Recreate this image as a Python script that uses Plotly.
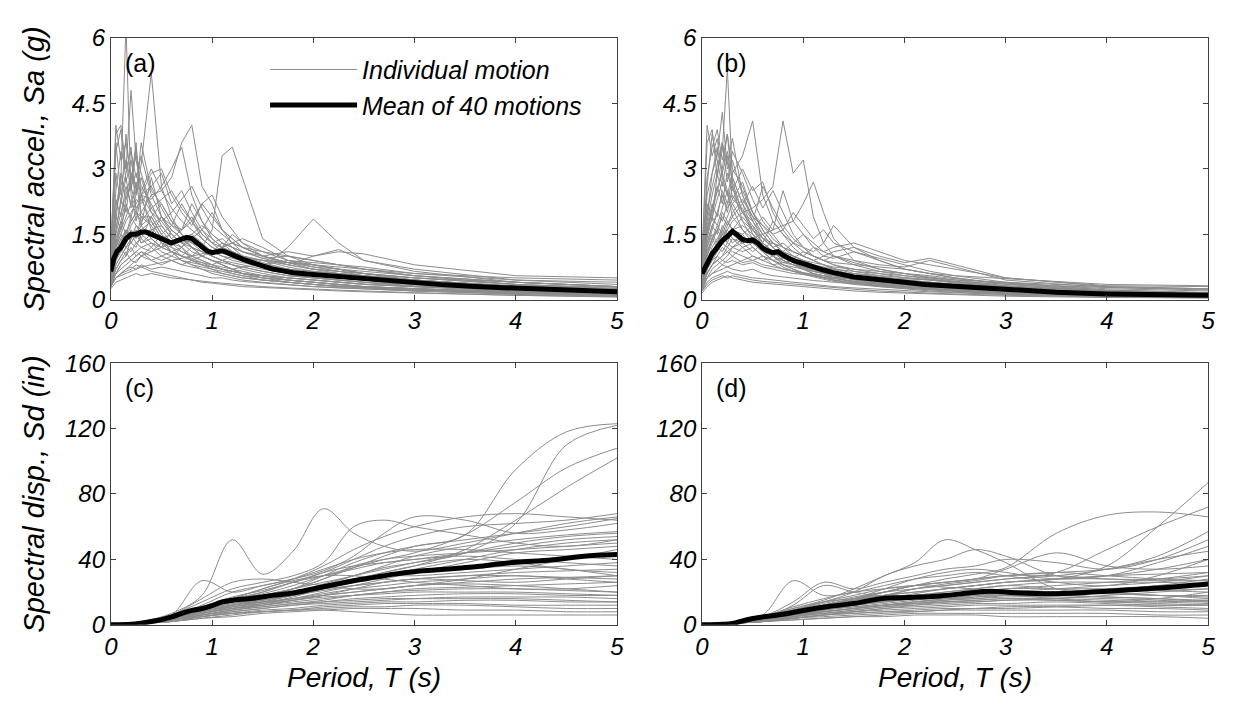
import plotly.graph_objects as go
from plotly.subplots import make_subplots

period_sa = [0, 0.05, 0.1, 0.15, 0.2, 0.25, 0.3, 0.4, 0.5, 0.6, 0.7, 0.8, 0.9, 1.0, 1.1, 1.2,
             1.3, 1.5, 1.75, 2.0, 2.25, 2.5, 3.0, 4.0, 5.0]
period_sd = [0, 0.3, 0.6, 0.9, 1.2, 1.5, 1.8, 2.1, 2.4, 2.7, 3.0, 3.5, 4.0, 4.5, 5.0]

# (a) spectral acceleration, g
sa_a = [
    [0.9, 2.1, 2.8, 6.3, 2.4, 1.8, 2.4, 1.6, 1.3, 1.1, 0.9, 0.8, 0.7, 0.6, 0.55, 0.5, 0.45, 0.4, 0.35, 0.3, 0.27, 0.25, 0.2, 0.14, 0.1],
    [0.7, 1.6, 2.3, 2.0, 2.9, 2.4, 3.1, 5.2, 2.6, 1.9, 1.5, 1.2, 1.0, 0.9, 0.8, 0.7, 0.6, 0.5, 0.45, 0.4, 0.35, 0.3, 0.25, 0.18, 0.12],
    [0.8, 2.5, 3.4, 3.0, 4.8, 3.2, 2.6, 2.2, 1.7, 1.4, 1.2, 0.9, 0.8, 0.7, 0.65, 0.6, 0.55, 0.45, 0.4, 0.35, 0.3, 0.28, 0.22, 0.15, 0.1],
    [0.5, 0.9, 1.2, 1.4, 1.7, 1.9, 2.0, 2.4, 2.5, 2.8, 3.6, 4.0, 2.6, 2.2, 1.6, 1.4, 1.2, 1.0, 0.85, 0.8, 0.7, 0.6, 0.45, 0.3, 0.2],
    [0.4, 0.6, 0.8, 0.9, 1.0, 1.1, 1.2, 1.3, 1.2, 1.3, 1.4, 1.3, 1.2, 1.6, 3.3, 3.5, 2.8, 1.4, 1.0, 0.8, 0.7, 0.6, 0.45, 0.3, 0.22],
    [0.3, 0.5, 0.6, 0.7, 0.8, 0.9, 1.0, 1.1, 1.2, 1.1, 1.0, 0.9, 0.85, 0.8, 0.9, 1.0, 0.9, 0.75, 1.2, 1.85, 1.3, 0.9, 0.7, 0.45, 0.35],
    [0.6, 1.2, 1.5, 1.8, 2.0, 2.2, 2.4, 2.3, 2.6, 3.0, 3.5, 2.4, 1.8, 1.4, 1.2, 1.1, 1.0, 0.8, 0.7, 0.6, 0.5, 0.45, 0.35, 0.25, 0.18],
    [1.0, 4.0, 3.2, 3.6, 2.8, 3.3, 2.9, 2.1, 1.8, 1.5, 1.3, 1.1, 1.0, 0.9, 0.8, 0.7, 0.65, 0.55, 0.45, 0.4, 0.35, 0.3, 0.25, 0.18, 0.12],
    [0.9, 3.4, 3.9, 2.7, 3.2, 2.5, 2.8, 2.0, 1.6, 1.3, 1.1, 1.0, 0.9, 0.8, 0.7, 0.6, 0.55, 0.5, 0.4, 0.35, 0.3, 0.28, 0.22, 0.15, 0.1],
    [0.7, 2.0, 2.6, 3.2, 2.5, 3.5, 2.4, 2.6, 2.1, 1.7, 1.5, 1.3, 1.1, 1.0, 0.9, 0.8, 0.7, 0.6, 0.5, 0.45, 0.4, 0.35, 0.3, 0.2, 0.15],
    [0.6, 1.5, 2.0, 2.4, 2.9, 2.6, 2.5, 3.0, 2.5, 2.1, 1.8, 1.6, 1.4, 1.2, 1.1, 1.0, 0.9, 0.8, 0.7, 0.6, 0.55, 0.5, 0.4, 0.3, 0.22],
    [0.5, 1.2, 1.7, 2.1, 1.9, 2.3, 2.2, 2.6, 2.9, 2.2, 2.5, 2.0, 1.6, 1.3, 1.2, 1.1, 1.0, 0.9, 0.75, 0.65, 0.6, 0.55, 0.45, 0.32, 0.25],
    [0.6, 1.3, 1.6, 1.9, 2.2, 2.0, 2.4, 2.0, 1.8, 2.0, 2.3, 2.6, 2.1, 1.7, 1.5, 1.3, 1.2, 1.0, 0.85, 0.7, 0.65, 0.6, 0.5, 0.4, 0.3],
    [0.5, 1.0, 1.3, 1.5, 1.8, 2.0, 1.8, 2.1, 2.3, 2.5, 2.1, 1.8, 2.2, 2.4, 1.9, 1.6, 1.3, 1.1, 0.9, 0.8, 0.7, 0.6, 0.5, 0.35, 0.28],
    [0.8, 1.9, 1.6, 2.2, 1.8, 2.0, 1.7, 1.9, 1.5, 1.7, 1.6, 1.9, 1.5, 1.3, 1.4, 1.2, 1.1, 1.0, 1.1, 1.0, 1.1, 1.05, 0.8, 0.55, 0.5],
    [0.7, 1.4, 1.8, 1.5, 1.9, 1.7, 1.6, 1.8, 1.4, 1.5, 1.3, 1.4, 1.6, 1.4, 1.2, 1.3, 1.2, 1.1, 1.0, 0.9, 0.8, 0.75, 0.6, 0.5, 0.45],
    [0.5, 1.0, 1.3, 1.6, 1.4, 1.7, 1.5, 1.6, 1.7, 1.4, 1.6, 1.8, 1.4, 1.2, 1.1, 1.0, 0.95, 0.9, 0.85, 0.8, 0.75, 0.7, 0.6, 0.45, 0.4],
    [0.6, 1.2, 1.5, 1.3, 1.6, 1.4, 1.9, 1.7, 1.3, 1.2, 1.1, 1.0, 1.2, 1.1, 1.3, 1.2, 1.0, 0.9, 0.8, 1.0, 1.15, 0.9, 0.65, 0.4, 0.3],
    [0.4, 0.9, 1.1, 1.3, 1.5, 1.3, 1.4, 1.2, 1.5, 1.3, 1.2, 1.5, 1.7, 1.5, 1.3, 1.1, 1.0, 0.85, 0.7, 0.6, 0.55, 0.5, 0.4, 0.3, 0.2],
    [0.5, 1.1, 1.4, 1.2, 1.3, 1.5, 1.3, 1.4, 1.2, 1.6, 1.4, 1.2, 1.1, 1.0, 0.9, 0.85, 0.8, 0.7, 0.6, 0.55, 0.5, 0.45, 0.35, 0.25, 0.18],
    [0.4, 0.8, 1.0, 1.2, 1.1, 1.3, 1.2, 1.1, 1.3, 1.1, 1.0, 1.2, 1.0, 0.9, 0.85, 0.8, 0.75, 0.65, 0.55, 0.5, 0.45, 0.4, 0.3, 0.22, 0.15],
    [0.3, 0.7, 0.9, 1.0, 1.2, 1.0, 1.1, 1.0, 0.9, 1.0, 0.9, 0.85, 0.8, 0.75, 0.7, 0.65, 0.6, 0.55, 0.5, 0.45, 0.4, 0.35, 0.3, 0.2, 0.15],
    [0.3, 0.6, 0.7, 0.8, 0.9, 0.85, 1.0, 0.9, 0.8, 0.9, 0.8, 0.75, 0.7, 0.65, 0.6, 0.55, 0.5, 0.45, 0.4, 0.35, 0.32, 0.3, 0.25, 0.18, 0.12],
    [0.3, 0.5, 0.6, 0.7, 0.75, 0.7, 0.8, 0.7, 0.75, 0.7, 0.65, 0.6, 0.55, 0.5, 0.5, 0.45, 0.42, 0.38, 0.34, 0.3, 0.28, 0.25, 0.2, 0.12, 0.08],
    [0.25, 0.4, 0.45, 0.5, 0.55, 0.6, 0.55, 0.6, 0.55, 0.5, 0.48, 0.45, 0.42, 0.4, 0.38, 0.36, 0.34, 0.3, 0.27, 0.24, 0.22, 0.2, 0.16, 0.1, 0.06],
    [0.35, 0.5, 0.55, 0.6, 0.65, 0.7, 0.75, 0.8, 0.85, 0.9, 0.95, 1.0, 1.05, 1.1, 1.0, 0.95, 0.9, 0.8, 0.7, 0.65, 0.6, 0.55, 0.45, 0.3, 0.2],
    [0.9, 2.9, 2.2, 3.8, 2.6, 2.1, 2.3, 1.8, 1.4, 1.1, 0.9, 0.8, 0.75, 0.7, 0.6, 0.55, 0.5, 0.45, 0.4, 0.35, 0.3, 0.27, 0.2, 0.14, 0.1],
    [1.1, 3.6, 2.4, 2.9, 3.5, 2.0, 1.9, 1.9, 1.5, 1.2, 1.0, 0.95, 0.85, 0.75, 0.7, 0.65, 0.6, 0.5, 0.45, 0.4, 0.35, 0.3, 0.25, 0.16, 0.12],
    [0.7, 1.8, 2.9, 2.3, 2.7, 3.6, 1.7, 2.8, 1.9, 1.5, 1.3, 1.2, 1.1, 1.0, 0.9, 0.8, 0.75, 0.65, 0.55, 0.5, 0.45, 0.4, 0.32, 0.22, 0.16],
    [0.6, 1.6, 2.2, 2.8, 2.1, 2.4, 3.6, 2.5, 2.2, 1.8, 1.6, 2.2, 1.8, 1.5, 1.3, 1.2, 1.1, 0.95, 0.8, 0.7, 0.65, 0.6, 0.5, 0.35, 0.25],
    [0.5, 1.3, 1.8, 2.3, 2.6, 2.9, 2.4, 2.9, 3.0, 2.4, 2.0, 1.7, 2.2, 1.9, 1.6, 1.4, 1.2, 1.0, 0.85, 0.75, 0.7, 0.65, 0.55, 0.4, 0.3],
    [0.8, 2.3, 1.9, 2.6, 2.2, 2.7, 2.0, 1.7, 1.9, 1.6, 1.4, 1.5, 1.3, 1.1, 1.2, 1.5, 1.3, 1.0, 0.8, 0.7, 0.6, 0.55, 0.45, 0.3, 0.2],
    [0.4, 0.9, 1.2, 1.0, 1.4, 1.6, 1.3, 1.5, 1.9, 1.7, 2.2, 1.8, 1.5, 1.3, 1.1, 1.0, 0.9, 0.8, 0.7, 0.6, 0.55, 0.5, 0.4, 0.3, 0.2],
    [0.6, 1.4, 1.1, 1.6, 1.3, 1.2, 1.5, 1.3, 1.1, 1.0, 1.2, 1.4, 1.6, 2.0, 1.6, 1.3, 1.1, 0.95, 1.0, 0.9, 0.8, 0.7, 0.55, 0.35, 0.25],
    [0.3, 0.6, 0.8, 0.9, 1.0, 1.1, 1.0, 1.2, 1.0, 0.9, 0.8, 0.9, 1.0, 1.1, 1.2, 1.3, 1.4, 1.2, 0.9, 0.75, 0.65, 0.55, 0.45, 0.3, 0.2],
    [0.4, 0.7, 0.9, 1.1, 0.9, 1.0, 1.1, 0.9, 1.0, 1.1, 1.2, 1.0, 0.9, 0.8, 0.75, 0.7, 0.75, 0.8, 0.9, 0.85, 0.8, 0.7, 0.55, 0.4, 0.3],
    [1.2, 3.8, 4.0, 3.0, 3.4, 2.8, 3.3, 2.4, 1.9, 1.6, 1.4, 1.2, 1.0, 0.9, 0.8, 0.7, 0.6, 0.55, 0.45, 0.4, 0.35, 0.3, 0.25, 0.15, 0.1],
    [0.5, 1.1, 1.4, 1.6, 1.3, 1.5, 1.7, 1.4, 1.2, 1.1, 1.0, 0.9, 0.8, 0.75, 0.7, 0.65, 0.6, 0.55, 0.5, 0.45, 0.4, 0.36, 0.3, 0.2, 0.15],
    [0.4, 0.8, 1.0, 1.2, 1.4, 1.6, 1.4, 1.9, 2.2, 1.8, 1.5, 1.3, 1.2, 1.1, 1.0, 0.9, 0.85, 0.75, 0.6, 0.5, 0.45, 0.4, 0.35, 0.25, 0.2],
    [0.3, 0.5, 0.6, 0.65, 0.7, 0.8, 0.75, 0.65, 0.6, 0.55, 0.5, 0.45, 0.4, 0.38, 0.35, 0.33, 0.3, 0.28, 0.25, 0.22, 0.2, 0.18, 0.15, 0.1, 0.07],
]

# (b) spectral acceleration, g
sa_b = [
    [0.8, 2.0, 2.6, 3.1, 3.4, 5.3, 2.8, 2.2, 1.6, 1.3, 1.1, 0.9, 0.8, 0.7, 0.6, 0.55, 0.5, 0.4, 0.35, 0.3, 0.26, 0.22, 0.16, 0.1, 0.08],
    [0.7, 1.9, 2.9, 3.3, 4.3, 3.0, 3.2, 2.4, 1.9, 1.5, 1.2, 1.0, 0.85, 0.75, 0.65, 0.6, 0.5, 0.42, 0.36, 0.3, 0.26, 0.22, 0.16, 0.1, 0.07],
    [0.6, 1.4, 1.9, 2.3, 2.7, 2.4, 2.9, 3.3, 4.1, 2.4, 1.8, 1.5, 1.2, 1.0, 0.9, 0.8, 0.7, 0.55, 0.45, 0.38, 0.32, 0.28, 0.2, 0.12, 0.09],
    [0.4, 0.8, 1.1, 1.3, 1.5, 1.6, 1.8, 2.0, 2.1, 2.3, 2.6, 4.1, 2.9, 3.2, 1.9, 1.3, 1.0, 0.8, 0.65, 0.55, 0.48, 0.4, 0.3, 0.18, 0.12],
    [0.3, 0.6, 0.8, 0.9, 1.0, 1.1, 1.2, 1.3, 1.4, 1.5, 1.6, 1.7, 1.8, 2.2, 2.7, 2.0, 1.4, 0.9, 0.7, 0.6, 0.5, 0.42, 0.3, 0.2, 0.15],
    [1.0, 4.0, 3.3, 3.7, 2.9, 3.4, 2.7, 2.0, 1.7, 1.3, 1.1, 0.9, 0.8, 0.7, 0.6, 0.5, 0.45, 0.38, 0.3, 0.25, 0.2, 0.17, 0.12, 0.08, 0.06],
    [0.9, 3.6, 3.9, 2.8, 3.6, 3.1, 3.7, 2.4, 1.8, 1.4, 1.2, 1.0, 0.85, 0.7, 0.6, 0.55, 0.5, 0.42, 0.35, 0.3, 0.25, 0.22, 0.16, 0.1, 0.07],
    [0.8, 2.8, 3.5, 3.9, 3.2, 3.8, 3.0, 2.6, 2.0, 1.6, 1.3, 1.1, 0.9, 0.8, 0.7, 0.6, 0.55, 0.45, 0.38, 0.32, 0.28, 0.24, 0.17, 0.1, 0.08],
    [0.6, 1.8, 2.4, 2.9, 3.6, 2.7, 3.4, 2.9, 2.3, 1.8, 1.5, 1.2, 1.0, 0.9, 0.8, 0.7, 0.62, 0.5, 0.42, 0.36, 0.3, 0.26, 0.2, 0.12, 0.09],
    [0.5, 1.5, 2.1, 2.6, 2.2, 2.9, 2.5, 3.0, 2.5, 2.7, 2.0, 1.6, 1.3, 1.1, 1.0, 0.9, 0.8, 0.65, 0.55, 0.45, 0.4, 0.34, 0.25, 0.15, 0.1],
    [0.7, 1.7, 2.2, 1.9, 2.5, 2.2, 2.8, 2.2, 2.6, 2.1, 2.5, 2.0, 1.5, 1.2, 1.0, 0.9, 0.8, 0.7, 0.6, 0.5, 0.45, 0.38, 0.28, 0.17, 0.12],
    [0.5, 1.2, 1.6, 2.0, 1.8, 2.2, 2.4, 2.0, 1.8, 2.6, 2.1, 1.7, 1.4, 1.2, 1.1, 1.3, 1.7, 1.2, 0.9, 0.7, 0.6, 0.5, 0.35, 0.2, 0.15],
    [0.4, 1.0, 1.3, 1.6, 1.9, 1.7, 2.0, 2.3, 1.9, 1.7, 1.5, 1.6, 2.0, 1.7, 1.4, 1.6, 1.3, 1.1, 0.95, 0.8, 0.65, 0.55, 0.4, 0.22, 0.16],
    [0.6, 1.3, 1.7, 1.5, 2.0, 1.8, 1.6, 1.9, 1.6, 1.4, 1.3, 1.2, 1.1, 1.0, 1.2, 1.1, 1.2, 1.3, 1.1, 0.9, 0.8, 0.7, 0.5, 0.3, 0.25],
    [0.5, 1.1, 1.4, 1.7, 1.5, 1.8, 1.6, 1.5, 1.7, 1.4, 1.2, 1.3, 1.1, 1.0, 0.9, 1.0, 1.1, 1.2, 1.0, 0.85, 0.95, 0.8, 0.5, 0.32, 0.3],
    [0.4, 0.9, 1.2, 1.4, 1.6, 1.4, 1.5, 1.3, 1.4, 1.2, 1.1, 1.0, 0.95, 1.1, 1.0, 0.9, 0.85, 0.8, 0.75, 0.7, 0.6, 0.55, 0.48, 0.35, 0.32],
    [0.3, 0.7, 1.0, 1.2, 1.1, 1.3, 1.2, 1.1, 1.2, 1.0, 0.9, 0.95, 0.9, 0.85, 0.8, 0.75, 0.7, 0.65, 0.6, 0.55, 0.5, 0.45, 0.4, 0.3, 0.25],
    [0.3, 0.6, 0.8, 1.0, 1.2, 1.1, 1.0, 1.2, 1.0, 0.9, 1.0, 0.85, 0.8, 0.75, 0.7, 0.65, 0.6, 0.55, 0.5, 0.45, 0.4, 0.35, 0.3, 0.2, 0.15],
    [0.2, 0.5, 0.7, 0.8, 0.9, 0.85, 0.9, 0.8, 0.85, 0.75, 0.7, 0.65, 0.6, 0.58, 0.55, 0.5, 0.48, 0.42, 0.38, 0.34, 0.3, 0.26, 0.2, 0.12, 0.08],
    [0.2, 0.4, 0.5, 0.55, 0.6, 0.65, 0.6, 0.55, 0.5, 0.48, 0.45, 0.42, 0.4, 0.38, 0.35, 0.33, 0.3, 0.27, 0.24, 0.2, 0.18, 0.16, 0.12, 0.07, 0.05],
    [0.15, 0.3, 0.4, 0.45, 0.5, 0.55, 0.5, 0.45, 0.4, 0.38, 0.36, 0.34, 0.32, 0.3, 0.28, 0.26, 0.24, 0.2, 0.17, 0.15, 0.13, 0.11, 0.08, 0.05, 0.04],
    [0.9, 2.6, 3.8, 3.2, 2.6, 3.3, 2.3, 2.1, 1.5, 1.2, 1.0, 0.8, 0.7, 0.6, 0.55, 0.5, 0.45, 0.38, 0.32, 0.27, 0.23, 0.2, 0.14, 0.09, 0.06],
    [0.7, 2.2, 1.8, 2.9, 2.4, 2.0, 2.6, 1.8, 1.4, 1.1, 0.9, 0.8, 0.7, 0.62, 0.56, 0.5, 0.45, 0.38, 0.33, 0.28, 0.24, 0.21, 0.15, 0.09, 0.06],
    [0.6, 1.6, 2.0, 2.5, 3.0, 3.8, 2.6, 2.0, 1.6, 1.3, 1.1, 0.95, 0.85, 0.75, 0.68, 0.62, 0.56, 0.46, 0.4, 0.34, 0.3, 0.26, 0.19, 0.12, 0.09],
    [0.5, 1.3, 1.7, 2.0, 2.4, 2.1, 2.3, 2.7, 2.0, 1.7, 1.4, 1.2, 1.1, 1.0, 0.9, 0.8, 0.72, 0.6, 0.52, 0.45, 0.4, 0.35, 0.26, 0.16, 0.12],
    [0.4, 1.0, 1.4, 1.2, 1.6, 1.9, 2.2, 1.8, 1.6, 1.9, 1.6, 2.5, 1.8, 1.5, 1.3, 1.1, 1.0, 0.85, 0.7, 0.6, 0.52, 0.45, 0.32, 0.18, 0.13],
    [0.4, 0.9, 1.1, 1.3, 1.5, 1.3, 1.6, 1.7, 1.5, 1.3, 1.8, 1.5, 1.3, 1.5, 1.2, 1.0, 0.95, 1.1, 0.9, 0.7, 0.6, 0.5, 0.36, 0.22, 0.16],
    [0.3, 0.7, 0.9, 1.1, 1.3, 1.2, 1.4, 1.2, 1.3, 1.1, 1.0, 1.1, 1.3, 1.2, 1.0, 0.9, 1.0, 0.9, 0.8, 0.75, 0.9, 0.75, 0.45, 0.28, 0.22],
    [0.5, 1.2, 1.5, 1.3, 1.7, 1.5, 1.3, 1.5, 1.2, 1.0, 0.9, 0.8, 0.75, 0.7, 0.65, 0.6, 0.55, 0.5, 0.45, 0.4, 0.36, 0.32, 0.25, 0.16, 0.12],
    [0.3, 0.6, 0.8, 0.9, 1.0, 1.2, 1.1, 1.0, 0.9, 1.0, 0.8, 0.7, 0.65, 0.6, 0.55, 0.52, 0.5, 0.48, 0.5, 0.48, 0.45, 0.4, 0.32, 0.2, 0.15],
    [0.35, 0.7, 0.9, 1.0, 0.9, 1.0, 1.2, 1.4, 1.3, 1.2, 1.3, 1.1, 1.0, 0.9, 0.85, 0.8, 0.75, 0.7, 0.65, 0.6, 0.55, 0.48, 0.38, 0.25, 0.2],
    [0.25, 0.5, 0.6, 0.7, 0.8, 0.75, 0.8, 0.9, 1.0, 0.9, 0.8, 0.85, 0.9, 0.8, 0.7, 0.65, 0.62, 0.6, 0.55, 0.5, 0.46, 0.42, 0.36, 0.28, 0.24],
    [0.8, 2.4, 2.9, 3.5, 2.8, 2.4, 2.1, 1.6, 1.3, 1.1, 0.9, 0.75, 0.65, 0.58, 0.52, 0.47, 0.42, 0.35, 0.3, 0.26, 0.22, 0.19, 0.13, 0.08, 0.05],
    [0.6, 1.5, 1.9, 1.7, 2.1, 2.5, 1.9, 2.2, 1.8, 1.5, 1.2, 1.0, 0.9, 0.8, 0.72, 0.65, 0.6, 0.5, 0.44, 0.38, 0.33, 0.29, 0.22, 0.14, 0.1],
    [0.5, 1.1, 1.4, 1.6, 1.4, 1.7, 1.9, 1.6, 1.4, 1.2, 1.0, 0.9, 0.8, 0.72, 0.65, 0.6, 0.55, 0.48, 0.42, 0.36, 0.32, 0.28, 0.21, 0.13, 0.1],
    [0.4, 0.8, 1.0, 1.2, 1.4, 1.6, 1.4, 1.3, 1.1, 1.3, 1.1, 1.0, 0.9, 0.8, 0.75, 0.7, 0.65, 0.55, 0.48, 0.42, 0.37, 0.32, 0.24, 0.15, 0.11],
    [0.3, 0.6, 0.8, 0.9, 0.8, 0.9, 1.0, 0.85, 0.9, 0.8, 0.75, 0.7, 0.66, 0.62, 0.58, 0.55, 0.52, 0.46, 0.4, 0.35, 0.31, 0.27, 0.2, 0.12, 0.09],
    [0.25, 0.5, 0.6, 0.65, 0.7, 0.75, 0.7, 0.65, 0.7, 0.6, 0.55, 0.52, 0.5, 0.47, 0.44, 0.42, 0.4, 0.36, 0.32, 0.28, 0.25, 0.22, 0.16, 0.1, 0.07],
    [0.2, 0.35, 0.45, 0.5, 0.55, 0.5, 0.55, 0.5, 0.45, 0.42, 0.4, 0.38, 0.35, 0.33, 0.31, 0.29, 0.27, 0.24, 0.2, 0.17, 0.15, 0.13, 0.1, 0.06, 0.04],
    [0.6, 1.6, 2.1, 2.5, 2.9, 2.5, 2.2, 2.5, 2.0, 1.6, 1.3, 1.1, 1.0, 0.9, 0.8, 0.72, 0.65, 0.55, 0.48, 0.42, 0.36, 0.31, 0.23, 0.14, 0.1],
]

# (c) spectral displacement, in
sd_c = [
    [0, 1, 5, 9, 14, 18, 22, 28, 35, 42, 48, 55, 95, 118, 123],
    [0, 1, 4, 8, 12, 15, 19, 24, 30, 35, 38, 44, 62, 110, 122],
    [0, 1, 5, 10, 15, 19, 24, 30, 35, 40, 44, 55, 75, 96, 108],
    [0, 1, 4, 7, 11, 14, 18, 22, 27, 32, 36, 46, 64, 84, 102],
    [0, 2, 7, 18, 52, 31, 45, 71, 56, 48, 45, 50, 56, 62, 66],
    [0, 1, 6, 14, 22, 26, 30, 38, 60, 64, 60, 55, 50, 48, 52],
    [0, 1, 5, 12, 20, 24, 28, 33, 42, 56, 66, 64, 56, 58, 62],
    [0, 1, 4, 9, 16, 22, 28, 36, 46, 54, 60, 66, 68, 66, 64],
    [0, 1, 5, 11, 17, 21, 26, 32, 40, 48, 54, 60, 62, 64, 68],
    [0, 1, 4, 8, 12, 16, 22, 30, 38, 44, 48, 52, 56, 60, 65],
    [0, 1, 5, 10, 14, 18, 22, 26, 30, 36, 42, 48, 52, 55, 57],
    [0, 1, 4, 9, 13, 16, 20, 25, 30, 34, 38, 44, 50, 54, 56],
    [0, 1, 5, 11, 16, 20, 26, 30, 34, 38, 40, 44, 48, 52, 54],
    [0, 1, 4, 8, 11, 14, 18, 22, 26, 30, 34, 40, 46, 50, 52],
    [0, 1, 3, 7, 10, 13, 16, 20, 24, 28, 32, 38, 44, 46, 48],
    [0, 1, 4, 9, 14, 18, 22, 28, 36, 40, 42, 44, 46, 48, 50],
    [0, 1, 6, 27, 20, 24, 28, 34, 40, 44, 46, 46, 44, 42, 40],
    [0, 1, 5, 10, 15, 20, 26, 32, 36, 38, 40, 42, 40, 38, 36],
    [0, 1, 4, 8, 12, 15, 19, 24, 28, 32, 36, 40, 38, 34, 32],
    [0, 1, 3, 7, 10, 13, 17, 22, 26, 30, 32, 34, 36, 34, 30],
    [0, 1, 5, 10, 14, 17, 20, 24, 28, 30, 30, 32, 34, 36, 38],
    [0, 1, 4, 9, 13, 15, 18, 21, 24, 26, 28, 30, 32, 33, 34],
    [0, 1, 3, 6, 9, 12, 15, 18, 22, 26, 28, 30, 30, 29, 28],
    [0, 1, 5, 10, 14, 17, 20, 22, 24, 26, 28, 27, 26, 28, 30],
    [0, 1, 4, 8, 12, 14, 16, 19, 22, 24, 26, 28, 30, 28, 26],
    [0, 1, 3, 7, 10, 12, 15, 18, 20, 22, 24, 26, 28, 29, 30],
    [0, 1, 4, 9, 12, 14, 16, 18, 20, 22, 24, 25, 24, 22, 20],
    [0, 1, 3, 6, 9, 11, 13, 15, 18, 20, 22, 23, 24, 25, 26],
    [0, 1, 3, 7, 10, 12, 14, 16, 18, 20, 21, 22, 22, 21, 20],
    [0, 1, 4, 8, 11, 13, 15, 17, 18, 19, 20, 20, 20, 19, 18],
    [0, 1, 3, 6, 8, 10, 12, 14, 16, 17, 18, 19, 19, 18, 18],
    [0, 1, 2, 5, 8, 10, 12, 13, 14, 15, 16, 17, 17, 17, 16],
    [0, 1, 3, 6, 9, 11, 13, 14, 15, 16, 16, 16, 16, 15, 14],
    [0, 1, 2, 5, 7, 9, 10, 12, 13, 14, 14, 15, 15, 14, 14],
    [0, 1, 3, 5, 7, 8, 9, 11, 12, 13, 13, 13, 12, 12, 12],
    [0, 1, 2, 4, 6, 8, 9, 10, 11, 11, 12, 12, 11, 10, 10],
    [0, 1, 2, 4, 5, 7, 8, 9, 10, 10, 10, 9, 9, 8, 8],
    [0, 1, 3, 5, 7, 8, 9, 9, 8, 7, 6, 6, 6, 6, 6],
    [0, 1, 4, 10, 16, 22, 27, 30, 30, 28, 26, 24, 22, 22, 24],
    [0, 1, 6, 16, 26, 28, 26, 24, 22, 22, 24, 28, 34, 40, 46],
]

# (d) spectral displacement, in
sd_d = [
    [0, 1, 4, 8, 12, 15, 18, 20, 22, 24, 26, 28, 36, 60, 87],
    [0, 1, 5, 9, 13, 17, 20, 22, 24, 26, 28, 32, 46, 60, 72],
    [0, 1, 4, 8, 12, 16, 20, 24, 28, 31, 35, 56, 67, 69, 66],
    [0, 1, 5, 10, 15, 22, 30, 38, 52, 46, 38, 22, 20, 21, 22],
    [0, 1, 4, 9, 14, 20, 30, 36, 40, 46, 42, 30, 28, 28, 30],
    [0, 1, 3, 7, 11, 15, 20, 24, 26, 28, 34, 44, 36, 34, 36],
    [0, 1, 6, 27, 18, 20, 24, 28, 30, 32, 30, 26, 24, 30, 40],
    [0, 1, 5, 14, 26, 22, 26, 30, 34, 36, 40, 38, 34, 40, 52],
    [0, 1, 4, 12, 24, 20, 18, 22, 24, 26, 28, 30, 34, 42, 57],
    [0, 1, 3, 8, 12, 16, 22, 28, 32, 34, 32, 28, 30, 38, 48],
    [0, 1, 4, 8, 11, 14, 18, 22, 25, 27, 30, 32, 34, 40, 45],
    [0, 1, 3, 7, 10, 13, 16, 19, 22, 24, 26, 28, 30, 34, 40],
    [0, 1, 5, 9, 12, 15, 18, 20, 22, 24, 26, 28, 30, 31, 32],
    [0, 1, 4, 8, 12, 16, 20, 24, 26, 28, 30, 30, 28, 27, 27],
    [0, 1, 3, 7, 10, 13, 16, 18, 20, 22, 24, 26, 26, 26, 25],
    [0, 1, 4, 8, 11, 14, 16, 18, 19, 20, 22, 22, 22, 21, 20],
    [0, 1, 3, 6, 9, 12, 15, 17, 19, 20, 20, 20, 19, 18, 17],
    [0, 1, 4, 7, 10, 12, 14, 16, 18, 19, 20, 20, 19, 18, 16],
    [0, 1, 3, 6, 9, 11, 13, 15, 17, 18, 18, 18, 17, 16, 15],
    [0, 1, 2, 5, 8, 10, 12, 14, 15, 16, 17, 17, 16, 15, 14],
    [0, 1, 3, 6, 8, 10, 12, 13, 14, 15, 16, 16, 15, 14, 13],
    [0, 1, 2, 5, 7, 9, 11, 12, 13, 14, 15, 15, 14, 13, 12],
    [0, 1, 3, 5, 7, 8, 10, 11, 12, 13, 13, 14, 13, 12, 12],
    [0, 1, 2, 4, 6, 8, 9, 10, 11, 12, 12, 12, 12, 11, 10],
    [0, 1, 2, 4, 6, 7, 8, 9, 10, 10, 11, 11, 10, 10, 9],
    [0, 1, 2, 4, 5, 6, 7, 8, 9, 9, 9, 9, 9, 8, 8],
    [0, 1, 2, 3, 4, 5, 6, 7, 7, 7, 7, 7, 7, 6, 6],
    [0, 1, 2, 3, 4, 5, 5, 6, 6, 6, 5, 5, 5, 5, 4],
    [0, 1, 3, 6, 9, 12, 14, 16, 16, 17, 18, 16, 14, 16, 20],
    [0, 1, 4, 9, 14, 18, 22, 24, 23, 22, 21, 20, 20, 22, 24],
    [0, 1, 3, 7, 12, 16, 18, 17, 16, 16, 18, 20, 22, 24, 28],
    [0, 1, 2, 5, 8, 10, 12, 14, 16, 18, 20, 22, 24, 26, 30],
    [0, 1, 3, 6, 9, 11, 12, 13, 14, 14, 15, 16, 18, 20, 22],
    [0, 1, 5, 10, 14, 16, 17, 18, 20, 22, 24, 22, 20, 18, 18],
    [0, 1, 2, 4, 6, 8, 10, 12, 14, 15, 16, 15, 14, 14, 15],
    [0, 1, 3, 5, 7, 9, 11, 13, 15, 17, 18, 18, 17, 16, 14],
    [0, 1, 4, 8, 10, 12, 14, 16, 18, 20, 22, 24, 26, 28, 32],
    [0, 1, 2, 4, 6, 7, 8, 8, 9, 10, 10, 11, 12, 12, 12],
    [0, 1, 3, 6, 8, 10, 12, 14, 16, 18, 19, 20, 21, 22, 24],
    [0, 1, 5, 11, 16, 20, 22, 24, 26, 28, 30, 32, 30, 28, 27],
]

# Mean of the 40 motions, read separately at finer steps
mean_a_t = [0, 0.03, 0.06, 0.1, 0.15, 0.2, 0.25, 0.3, 0.35, 0.4, 0.45, 0.5, 0.55, 0.6, 0.65, 0.7, 0.75,
            0.8, 0.85, 0.9, 0.95, 1.0, 1.05, 1.1, 1.15, 1.2, 1.3, 1.4, 1.5, 1.6, 1.7, 1.8, 2.0, 2.2,
            2.4, 2.6, 2.8, 3.0, 3.3, 3.6, 4.0, 4.5, 5.0]
mean_a = [0.65, 0.95, 1.1, 1.2, 1.4, 1.5, 1.5, 1.55, 1.55, 1.5, 1.48, 1.42, 1.35, 1.3, 1.35, 1.4, 1.43,
          1.4, 1.3, 1.2, 1.12, 1.08, 1.1, 1.12, 1.08, 1.02, 0.93, 0.85, 0.77, 0.7, 0.66, 0.62, 0.58, 0.54,
          0.5, 0.46, 0.42, 0.38, 0.34, 0.3, 0.26, 0.22, 0.18]
mean_b_t = [0, 0.05, 0.1, 0.15, 0.2, 0.25, 0.3, 0.35, 0.4, 0.45, 0.5, 0.55, 0.6, 0.65, 0.7, 0.75, 0.8,
            0.9, 1.0, 1.1, 1.2, 1.3, 1.4, 1.5, 1.6, 1.7, 1.8, 2.0, 2.2, 2.4, 2.6, 2.8, 3.0, 3.5, 4.0,
            4.5, 5.0]
mean_b = [0.6, 0.85, 1.05, 1.2, 1.35, 1.45, 1.57, 1.48, 1.38, 1.35, 1.37, 1.3, 1.18, 1.12, 1.08, 1.1,
          1.02, 0.9, 0.82, 0.74, 0.68, 0.62, 0.56, 0.52, 0.5, 0.48, 0.46, 0.4, 0.35, 0.32, 0.28, 0.25,
          0.22, 0.17, 0.13, 0.11, 0.1]
mean_c_t = [0, 0.2, 0.3, 0.4, 0.5, 0.6, 0.7, 0.8, 0.9, 1.0, 1.1, 1.2, 1.4, 1.6, 1.8, 2.0, 2.2, 2.4,
            2.6, 2.8, 3.0, 3.2, 3.4, 3.6, 3.8, 4.0, 4.2, 4.4, 4.6, 4.8, 5.0]
mean_c = [0, 0.3, 1, 2, 3.2, 4.8, 7, 8.8, 10, 11.8, 14, 15, 16.2, 18, 19.5, 22, 24.5, 27, 29, 31, 32.5,
          33.5, 34.5, 35.5, 37, 38.2, 39, 40, 41.5, 42.5, 43]
mean_d_t = [0, 0.2, 0.3, 0.5, 0.8, 1.0, 1.25, 1.5, 1.8, 2.05, 2.35, 2.65, 2.85, 3.1, 3.5, 4.0, 4.5, 5.0]
mean_d = [0, 0.3, 0.8, 3.9, 6.5, 8.8, 11.2, 13.1, 16.3, 16.7, 17.6, 19.6, 20.6, 19.6, 19, 20.6, 22.5, 25]

GRAY = "#8c8c8c"
FONT = "Liberation Sans"

fig = make_subplots(rows=2, cols=2)

panels = [
    ("(a)", 1, 1, period_sa, sa_a, mean_a_t, mean_a, "linear"),
    ("(b)", 1, 2, period_sa, sa_b, mean_b_t, mean_b, "linear"),
    ("(c)", 2, 1, period_sd, sd_c, mean_c_t, mean_c, "spline"),
    ("(d)", 2, 2, period_sd, sd_d, mean_d_t, mean_d, "spline"),
]

for tag, r, c, per, curves, mt, mv, shape in panels:
    first = tag == "(a)"
    for i, vals in enumerate(curves):
        fig.add_trace(go.Scatter(
            x=per, y=vals, mode="lines",
            line=dict(color=GRAY, width=1, shape=shape),
            name="Individual motion",
            showlegend=first and i == 0, hoverinfo="skip"), row=r, col=c)
    fig.add_trace(go.Scatter(
        x=mt, y=mv, mode="lines",
        line=dict(color="black", width=5, shape=shape),
        name="Mean of 40 motions",
        showlegend=first, hoverinfo="skip"), row=r, col=c)

axis_style = dict(
    showline=True, linecolor="#404040", linewidth=1, mirror="ticks",
    ticks="inside", ticklen=5, tickcolor="#404040",
    showgrid=False, zeroline=False,
    tickfont=dict(family=FONT, size=24, style="italic", color="black"),
)
fig.update_xaxes(range=[0, 5], tickvals=[0, 1, 2, 3, 4, 5], **axis_style)
fig.update_yaxes(**axis_style)

W, H = 1236, 709
x_left = [105 / W, 617 / W]
x_right = [703 / W, 1215 / W]
y_top = [(H - 297) / H, (H - 25) / H]
y_bot = [(H - 635) / H, (H - 363) / H]

fig.update_layout(
    xaxis=dict(domain=x_left), xaxis2=dict(domain=x_right),
    xaxis3=dict(domain=x_left), xaxis4=dict(domain=x_right),
    yaxis=dict(domain=y_top, range=[0, 6], tickvals=[0, 1.5, 3, 4.5, 6],
               ticktext=["0", "1.5", "3", "4.5", "6"]),
    yaxis2=dict(domain=y_top, range=[0, 6], tickvals=[0, 1.5, 3, 4.5, 6],
                ticktext=["0", "1.5", "3", "4.5", "6"]),
    yaxis3=dict(domain=y_bot, range=[0, 160], tickvals=[0, 40, 80, 120, 160]),
    yaxis4=dict(domain=y_bot, range=[0, 160], tickvals=[0, 40, 80, 120, 160]),
)

# panel tags
for k, (tag, *_rest) in enumerate(panels):
    suffix = "" if k == 0 else str(k + 1)
    fig.add_annotation(text=tag, xref=f"x{suffix} domain", yref=f"y{suffix} domain",
                       x=0.024, y=0.905, xanchor="left", yanchor="middle", showarrow=False,
                       font=dict(family=FONT, size=25, color="black"))

fig.add_annotation(text="Spectral accel., Sa (g)", xref="paper", yref="paper",
                   x=27 / W, y=sum(y_top) / 2, textangle=-90, showarrow=False,
                   xanchor="center", yanchor="middle",
                   font=dict(family=FONT, size=29, style="italic", color="black"))
fig.add_annotation(text="Spectral disp., Sd (in)", xref="paper", yref="paper",
                   x=27 / W, y=sum(y_bot) / 2, textangle=-90, showarrow=False,
                   xanchor="center", yanchor="middle",
                   font=dict(family=FONT, size=29, style="italic", color="black"))
for xd in (x_left, x_right):
    fig.add_annotation(text="Period, T (s)", xref="paper", yref="paper",
                       x=sum(xd) / 2, y=(H - 690) / H, showarrow=False,
                       xanchor="center", yanchor="middle",
                       font=dict(family=FONT, size=28, style="italic", color="black"))

fig.update_layout(
    width=W, height=H,
    margin=dict(l=0, r=0, t=0, b=0),
    paper_bgcolor="white", plot_bgcolor="white",
    showlegend=True,
    legend=dict(x=261 / W, y=(H - 34) / H, xanchor="left", yanchor="top",
                bgcolor="rgba(0,0,0,0)", itemwidth=87, traceorder="normal",
                font=dict(family=FONT, size=25, style="italic", color="black")),
)

fig.write_html("out.html", config={"displayModeBar": False},
               post_script="document.body.style.margin='0';")
